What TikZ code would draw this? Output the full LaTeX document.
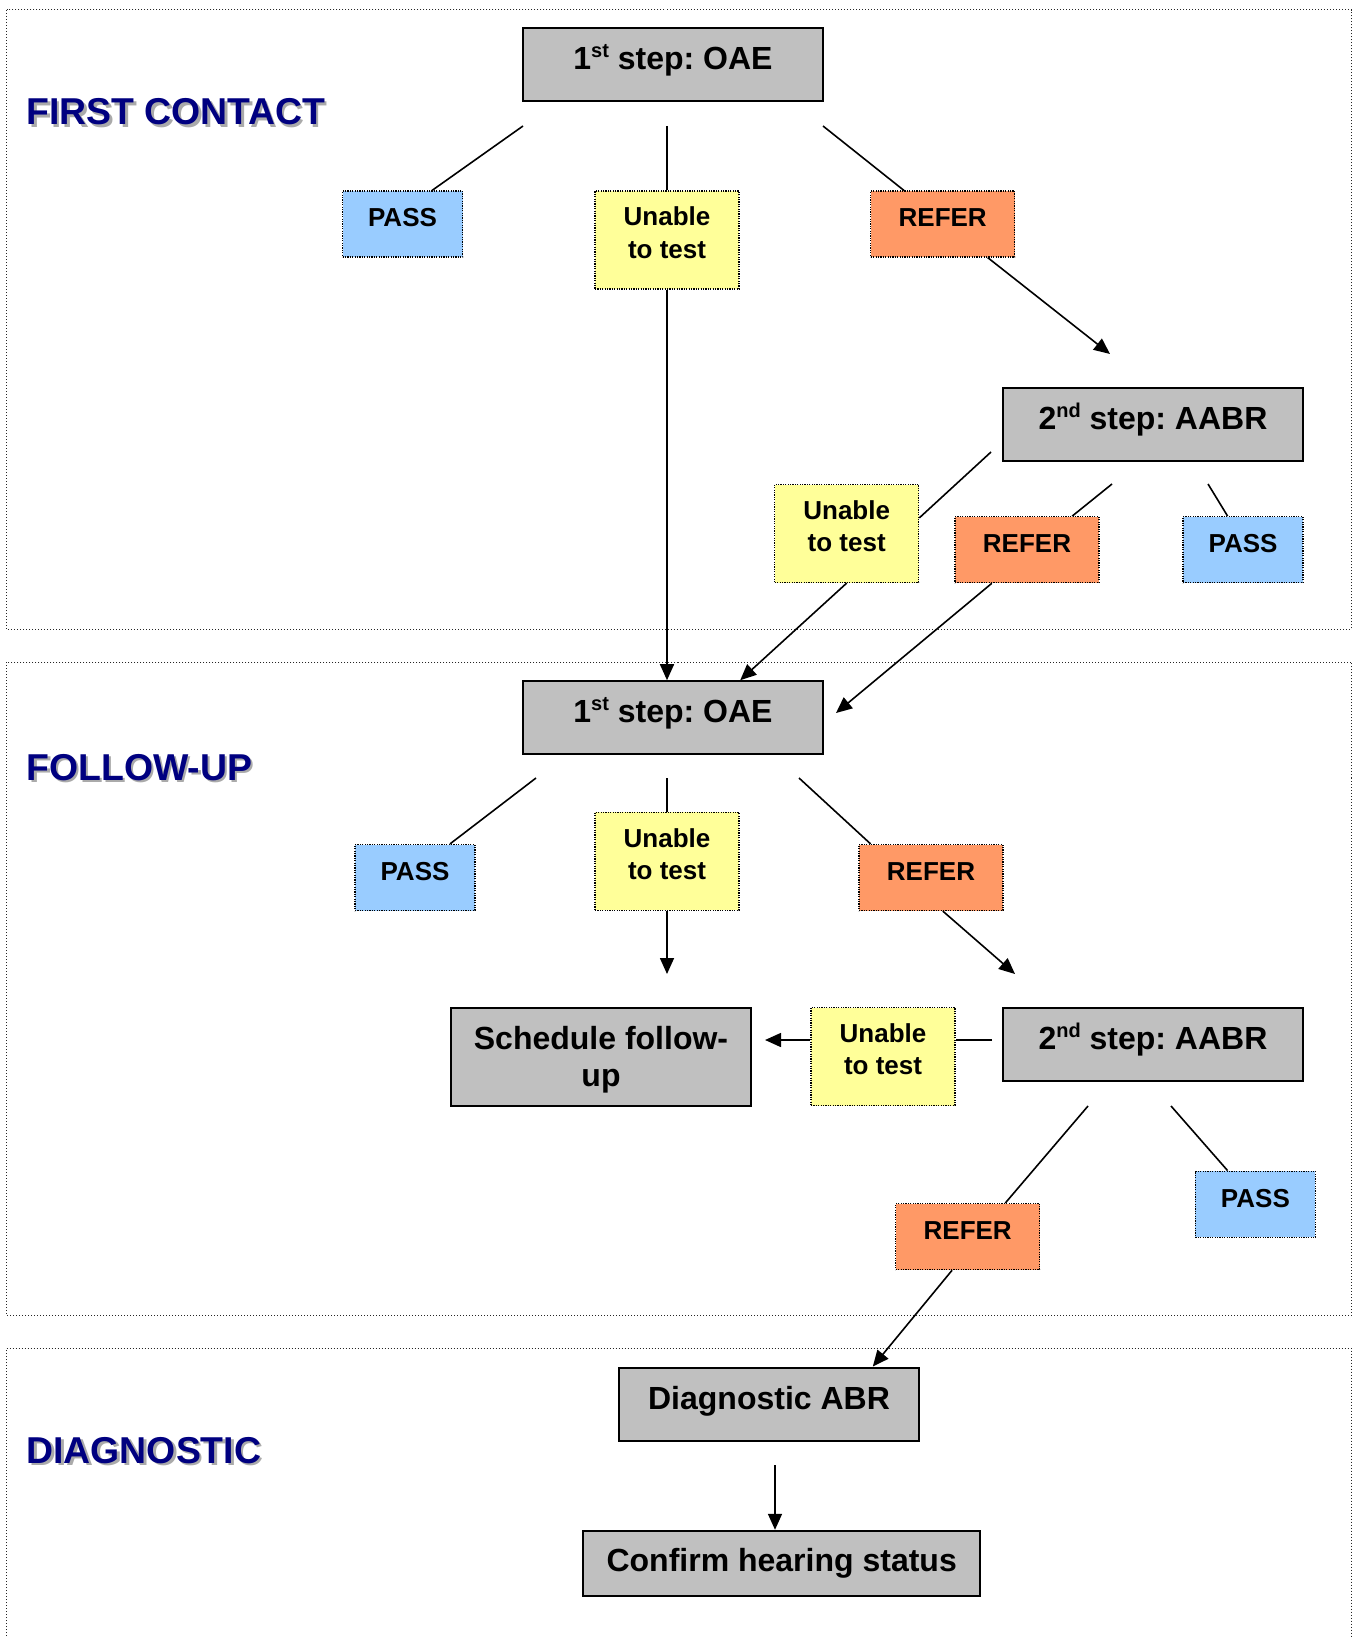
\documentclass[tikz,border=0pt]{standalone}
\usepackage{fontspec}
\setmainfont{Liberation Sans}
\usetikzlibrary{arrows.meta,calc}
\definecolor{boxgray}{RGB}{192,192,192}
\definecolor{passblue}{RGB}{153,204,255}
\definecolor{unableyellow}{RGB}{255,255,153}
\definecolor{referorange}{RGB}{255,153,102}
\definecolor{labelnavy}{RGB}{0,0,128}
\definecolor{shadowgray}{RGB}{170,170,170}
\newcommand\shadowed[1]{\makebox[0pt][l]{\hspace{1.3pt}\raisebox{-1.3pt}{\color{shadowgray}#1}}#1}
\newcommand\sups[1]{\raisebox{6pt}{\fontsize{10}{10}\selectfont #1}}
\frenchspacing
\begin{document}
\frenchspacing
\begin{tikzpicture}[x=0.5pt,y=-0.5pt,
  secframe/.style={draw=black!85, line width=0.5pt, dash pattern=on 0.5pt off 1pt},
  mainbox/.style={draw, line width=1pt, fill=boxgray, inner sep=0pt, minimum width=150pt, minimum height=36.5pt, align=center, font=\fontsize{16}{18.8}\selectfont\bfseries},
  onebig/.style={mainbox, text height=11.5pt, text depth=6.5pt},
  tagbox/.style={draw, line width=0.6pt, dash pattern=on 0.6pt off 0.6pt, inner sep=0pt, minimum width=72pt, align=center, font=\fontsize{13}{16.2}\selectfont\bfseries},
  tagone/.style={tagbox, minimum height=33pt, text height=9.3pt, text depth=6.3pt},
  tagtwo/.style={tagbox, minimum height=49pt, text depth=7.3pt},
  passbox/.style={tagone, fill=passblue, minimum width=60pt},
  referbox/.style={tagone, fill=referorange},
  unablebox/.style={tagtwo, fill=unableyellow},
  seclabel/.style={anchor=base west, inner sep=0pt, text=labelnavy, font=\fontsize{18.7}{20}\selectfont\bfseries},
  link/.style={line width=0.8pt},
  arrow/.style={link, -{Triangle[length=8pt,width=7pt]}}
]
\useasboundingbox (0,0) rectangle (1353,1637);
% section frames
\draw[secframe] (6.5,10) rectangle (1351,629.5);
\draw[secframe] (6.5,662) rectangle (1351,1315.5);
\draw[secframe] (6.5,1645) -- (6.5,1348) -- (1351,1348) -- (1351,1645);
% section labels
\node[seclabel] (lfirst) at (26,125) {\shadowed{FIRST CONTACT}};
\node[seclabel] (lfollow) at (26,780) {\shadowed{FOLLOW-UP}};
\node[seclabel] (ldiag) at (26,1463) {\shadowed{DIAGNOSTIC}};
% nodes
\node[onebig] (oae1) at (673,64.7) {1\sups{st} step: OAE};
\node[passbox] (pass1) at (402.5,224) {PASS};
\node[unablebox] (un1) at (667,240) {Unable\\to test};
\node[referbox] (ref1) at (942.7,224) {REFER};
\node[onebig] (aabr1) at (1153,424) {2\sups{nd} step: AABR};
\node[unablebox] (un2) at (846.7,533.5) {Unable\\to test};
\node[referbox] (ref2) at (1027,549.7) {REFER};
\node[passbox] (pass2) at (1243,549.7) {PASS};
\node[onebig] (oae2) at (673,717.7) {1\sups{st} step: OAE};
\node[passbox] (pass3) at (415,877.5) {PASS};
\node[unablebox] (un3) at (667,861.3) {Unable\\to test};
\node[referbox] (ref3) at (931,877.5) {REFER};
\node[mainbox, minimum height=49pt, text depth=0pt] (sched) at (601,1056.5) {Schedule follow-\\up};
\node[unablebox] (un4) at (883,1056.5) {Unable\\to test};
\node[onebig] (aabr2) at (1153,1044) {2\sups{nd} step: AABR};
\node[referbox] (ref4) at (967.7,1236.6) {REFER};
\node[passbox] (pass4) at (1255.4,1204.2) {PASS};
\node[onebig] (diag) at (769,1404) {Diagnostic ABR};
\node[mainbox, minimum width=198.5pt, minimum height=32.5pt, text height=11.5pt, text depth=3pt] (conf) at (781.7,1563.3) {Confirm hearing status};
% free ends
\coordinate (a1) at (523,126);
\coordinate (a2) at (667,126);
\coordinate (a3) at (823,126);
\coordinate (a5) at (1110,354);
\coordinate (a6) at (991,452);
\coordinate (a7) at (1112,484);
\coordinate (a8) at (1208,484);
\coordinate (a10) at (836,713);
\coordinate (a11) at (536,778);
\coordinate (a12) at (667,778);
\coordinate (a13) at (799,778);
\coordinate (a14) at (667,974);
\coordinate (a15) at (1015,974);
\coordinate (a16) at (992,1040);
\coordinate (a17) at (765,1040);
\coordinate (a18) at (1088,1106);
\coordinate (a19) at (1171,1106);
\coordinate (a21) at (775,1465);
% connectors
\draw[link] (a1) -- ([xshift=14.8pt]pass1.north);
\draw[link] (a2) -- (un1.north);
\draw[link] (a3) -- ([xshift=-19.4pt]ref1.north);
\draw[arrow] (un1.south) -- (un1.south |- oae2.north);
\draw[arrow] ([xshift=22.5pt]ref1.south) -- (a5);
\draw[link] (a6) -- ([yshift=7.8pt]un2.east);
\draw[link] (a7) -- ([xshift=22.6pt]ref2.north);
\draw[link] (a8) -- ([xshift=-7.7pt]pass2.north);
\draw[arrow] (un2.south) -- ([xshift=33.6pt]oae2.north);
\draw[arrow] ([xshift=-17.6pt]ref2.south) -- (a10);
\draw[link] (a11) -- ([xshift=17.5pt]pass3.north);
\draw[link] (a12) -- (un3.north);
\draw[link] (a13) -- ([xshift=-30.2pt]ref3.north);
\draw[arrow] (un3.south) -- (a14);
\draw[arrow] ([xshift=5.9pt]ref3.south) -- (a15);
\draw[link] (a16) -- (un4.east |- a16);
\draw[arrow] (un4.west |- a17) -- (a17);
\draw[link] (a18) -- ([xshift=18.8pt]ref4.north);
\draw[link] (a19) -- ([xshift=-13.9pt]pass4.north);
\draw[arrow] ([xshift=-7.8pt]ref4.south) -- ([xshift=51.9pt]diag.north);
\draw[arrow] (a21) -- (a21 |- conf.north);
\end{tikzpicture}
\end{document}
